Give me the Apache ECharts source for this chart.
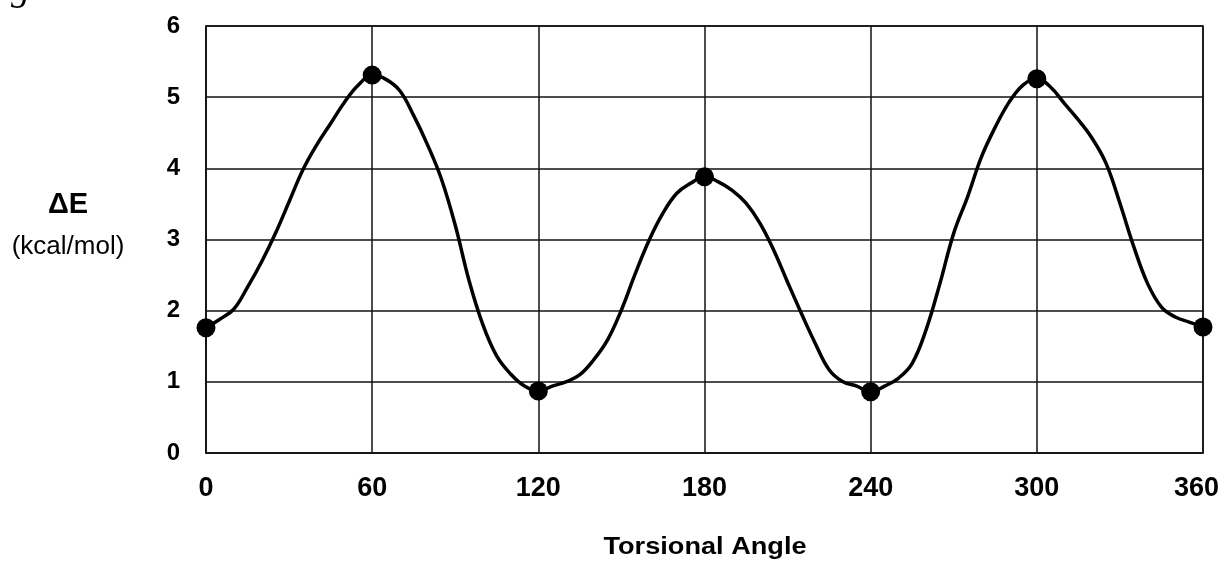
<!DOCTYPE html>
<html>
<head>
<meta charset="utf-8">
<script src="https://cdn.jsdelivr.net/npm/echarts@6/dist/echarts.min.js"></script>
<style>
  html, body { margin: 0; padding: 0; background: #fff; }
  #chart { width: 1220px; height: 561px; }
</style>
</head>
<body>
<div id="chart"></div>
<script>
// fitted curve, read every 5 degrees
var curveAngles = [];
for (var a = 0; a <= 360; a += 5) curveAngles.push(a);
var curveEnergy = [
  1.76, 1.88, 2.02, 2.33, 2.68, 3.08, 3.53, 3.98, 4.33, 4.63, 4.93, 5.17,
  5.31, 5.25, 5.09, 4.74, 4.33, 3.85, 3.20, 2.42, 1.80, 1.36, 1.11, 0.94,
  0.87, 0.94, 1.00, 1.10, 1.31, 1.59, 2.01, 2.52, 2.99, 3.37, 3.65, 3.79,
  3.88, 3.81, 3.69, 3.51, 3.23, 2.85, 2.40, 1.96, 1.54, 1.17, 1.00, 0.94,
  0.86, 0.94, 1.05, 1.26, 1.73, 2.38, 3.09, 3.60, 4.16, 4.58, 4.93, 5.17,
  5.26, 5.14, 4.91, 4.68, 4.42, 4.07, 3.51, 2.90, 2.38, 2.05, 1.91, 1.84,
  1.77
];

// computed points (markers)
var pointAngles = [0, 60, 120, 180, 240, 300, 360];
var pointEnergy = [1.76, 5.31, 0.87, 3.88, 0.86, 5.26, 1.77];

var xTicks = [0, 60, 120, 180, 240, 300, 360];
var yTicks = [0, 1, 2, 3, 4, 5, 6];

var curveData = curveAngles.map(function (x, i) { return [x, curveEnergy[i]]; });
var pointData = pointAngles.map(function (x, i) { return [x, pointEnergy[i]]; });

var FONT = '"Liberation Sans", Arial, sans-serif';

var chart = echarts.init(document.getElementById('chart'));
var option = {
  backgroundColor: '#fff',
  animation: false,
  grid: { left: 206, right: 17, top: 26, bottom: 108, containLabel: false, outerBoundsMode: 'none' },
  xAxis: {
    type: 'value',
    min: xTicks[0],
    max: xTicks[xTicks.length - 1],
    interval: 60,
    axisLine: { show: true, lineStyle: { color: '#222', width: 1.5 } },
    axisTick: { show: false },
    axisLabel: {
      margin: 22, fontFamily: FONT, fontWeight: 'bold', fontSize: 27, color: '#000',
      formatter: function (v) { return v === xTicks[xTicks.length - 1] ? '{r|' + v + '}' : String(v); },
      rich: { r: { fontFamily: FONT, fontWeight: 'bold', fontSize: 27, color: '#000', padding: [0, 13, 0, 0] } }
    },
    splitLine: { show: true, lineStyle: { color: '#111', width: 1.5 } }
  },
  yAxis: {
    type: 'value',
    min: yTicks[0],
    max: yTicks[yTicks.length - 1],
    interval: 1,
    axisLine: { show: true, lineStyle: { color: '#222', width: 1.5 } },
    axisTick: { show: false },
    axisLabel: { margin: 26, fontFamily: FONT, fontWeight: 'bold', fontSize: 24, color: '#000' },
    splitLine: { show: true, lineStyle: { color: '#111', width: 1.5 } }
  },
  graphic: [
    {
      type: 'rect',
      shape: { x: 206, y: 26, width: 997, height: 427 },
      style: { fill: 'none', stroke: '#111', lineWidth: 1.5 },
      silent: true, z: 1
    },
    {
      type: 'text',
      x: 68, y: 205,
      style: { text: '\u0394E', x: 0, y: 0, align: 'center', verticalAlign: 'middle',
        font: 'bold 29px ' + FONT, fill: '#000' }
    },
    {
      type: 'text',
      x: 68, y: 247,
      style: { text: '(kcal/mol)', x: 0, y: 0, align: 'center', verticalAlign: 'middle',
        font: '26px ' + FONT, fill: '#000' }
    },
    {
      type: 'text',
      x: 705, y: 548, scaleX: 1.18,
      style: { text: 'Torsional Angle', x: 0, y: 0, align: 'center', verticalAlign: 'middle',
        font: 'bold 23px ' + FONT, fill: '#000' }
    },
    {
      type: 'text',
      style: { text: 'Fig', x: 30, y: -10, align: 'right', verticalAlign: 'middle',
        font: 'italic 38px "Liberation Serif", serif', fill: '#000' }
    }
  ],
  series: [
    {
      name: 'curve',
      type: 'line',
      data: curveData,
      smooth: 0.4,
      showSymbol: false,
      lineStyle: { color: '#000', width: 3.5 },
      z: 3
    },
    {
      name: 'points',
      type: 'scatter',
      data: pointData,
      symbolSize: 19,
      clip: false,
      itemStyle: { color: '#000', opacity: 1 },
      z: 4
    }
  ]
};
chart.setOption(option);
</script>
</body>
</html>
